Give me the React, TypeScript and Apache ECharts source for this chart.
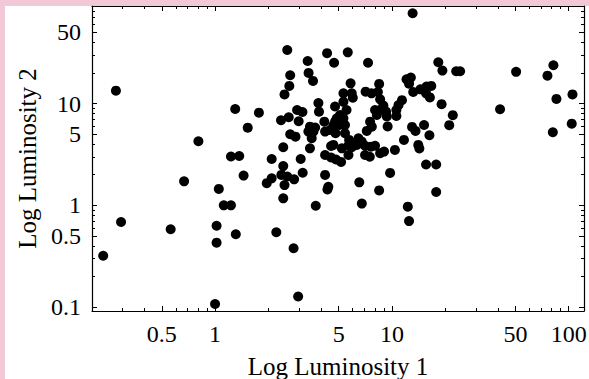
import React, { useEffect, useRef } from "react";
import * as echarts from "echarts";

// Log Luminosity 1 (x) and Log Luminosity 2 (y) values
const LUM1 = [
  0.233, 0.275, 0.294, 0.561, 0.668, 0.805, 1.0, 1.02, 1.02, 1.05,
  1.12, 1.23, 1.23, 1.37, 1.30, 1.31, 1.45, 1.53, 1.77, 1.96,
  2.09, 2.09, 2.22, 2.37, 2.47, 2.43, 2.43, 2.43, 2.56, 2.80,
  2.78, 2.95, 2.56, 2.66, 2.63, 2.47, 2.36, 2.61, 2.91, 3.12,
  2.97, 2.66, 2.85, 3.05, 3.13, 3.34, 4.30, 4.71, 3.38, 3.58,
  3.84, 3.87, 4.77, 3.44, 3.68, 3.37, 3.60, 3.52, 4.15, 4.19,
  3.44, 4.53, 4.19, 4.53, 4.83, 5.16, 5.68, 4.19, 4.37, 4.32,
  3.71, 5.63, 7.33, 5.84, 8.47, 12.1, 12.8, 12.5, 15.7, 16.7,
  18.3, 19.3, 23.1, 24.3, 13.1, 5.32, 5.93, 6.01, 5.32, 7.10,
  7.67, 8.33, 8.58, 8.95, 8.58, 9.27, 9.36, 11.4, 10.9, 10.6,
  13.2, 14.5, 15.6, 16.4, 19.1, 22.1, 21.1, 5.09, 5.32, 5.54,
  8.03, 8.22, 7.53, 7.70, 7.21, 9.46, 10.6, 13.0, 13.6, 15.2,
  16.3, 11.7, 14.1, 14.3, 10.4, 8.58, 9.03, 7.05, 7.50, 4.47,
  4.80, 5.43, 5.73, 5.68, 5.21, 4.67, 6.47, 6.76, 6.33, 7.05,
  7.60, 8.03, 4.77, 4.67, 5.05, 5.43, 4.88, 15.6, 17.8, 9.77,
  6.54, 8.47, 17.8, 6.76, 12.3, 12.5, 40.9, 50.4, 81.9, 75.8,
  105, 85.2, 104, 81.3, 5.93,
];
const LUM2 = [
  0.319, 13.4, 0.685, 0.581, 1.72, 4.26, 0.107, 0.63, 0.429, 1.45,
  1.0, 1.0, 3.02, 3.05, 8.85, 0.519, 1.96, 5.8, 8.14, 1.65,
  1.84, 2.85, 0.543, 1.99, 1.58, 2.43, 3.72, 1.17, 1.92, 1.80,
  0.378, 0.127, 33.6, 19.0, 14.9, 12.3, 6.85, 7.33, 8.65, 8.27,
  6.70, 4.99, 4.73, 2.85, 2.09, 26.2, 31.3, 25.2, 20.0, 16.7,
  10.1, 8.32, 9.36, 5.93, 5.82, 5.30, 5.30, 4.56, 6.64, 5.30,
  3.63, 3.83, 3.12, 2.95, 2.82, 2.67, 3.12, 1.99, 1.52, 1.43,
  0.99, 31.9, 25.2, 15.8, 15.6, 17.3, 18.0, 15.7, 14.7, 14.9,
  25.5, 21.1, 20.8, 20.8, 77.3, 12.6, 12.6, 11.4, 10.4, 13.1,
  12.6, 13.0, 11.0, 9.58, 8.64, 8.32, 7.46, 10.8, 9.69, 8.64,
  13.0, 13.8, 12.6, 11.5, 9.86, 7.69, 6.13, 7.72, 7.17, 8.64,
  8.64, 7.72, 6.64, 5.93, 5.38, 5.96, 7.55, 5.89, 5.38, 6.16,
  4.88, 4.39, 3.92, 3.62, 3.50, 3.25, 3.37, 3.12, 3.0, 5.50,
  5.11, 5.11, 4.39, 3.87, 3.63, 3.92, 4.56, 4.22, 3.92, 3.85,
  3.77, 3.85, 6.64, 6.09, 6.16, 6.16, 7.17, 2.52, 2.52, 2.08,
  1.68, 1.40, 1.35, 1.04, 0.97, 0.70, 8.79, 20.5, 23.8, 18.8,
  12.3, 11.1, 6.34, 5.22, 3.72,
];

const X_TICKS = [0.5, 1, 5, 10, 50, 100];
const X_MINOR = [0.3, 0.4, 0.6, 0.7, 0.8, 0.9, 2, 3, 4, 6, 7, 8, 9, 20, 30, 40, 60, 70, 80, 90];
const Y_TICKS = [0.1, 0.5, 1, 5, 10, 50];
const Y_MINOR = [0.2, 0.3, 0.4, 0.6, 0.7, 0.8, 0.9, 2, 3, 4, 6, 7, 8, 9, 20, 30, 40, 60, 70, 80, 90];
const X_RANGE = [0.2014, 122];
const Y_RANGE = [0.0914, 91];
const X_TITLE = "Log Luminosity 1";
const Y_TITLE = "Log Luminosity 2";

const FONT = "Liberation Serif";
const lg = (v: number) => Math.log10(v);

function makeAxis(
  position: string,
  ticks: number[],
  range: number[],
  major: boolean,
  showLine: boolean,
  showLabel: boolean,
  name?: string,
  nameGap?: number
) {
  const tv = ticks.map(lg);
  return {
    type: "value",
    position,
    min: lg(range[0]),
    max: lg(range[1]),
    splitLine: { show: false },
    axisLine: { show: showLine, onZero: false, lineStyle: { color: "#000", width: 1.2 } },
    axisTick: {
      show: true,
      inside: true,
      length: major ? 5 : 3,
      customValues: tv,
      lineStyle: { color: "#000", width: 1 },
    },
    axisLabel: {
      show: showLabel,
      customValues: tv,
      margin: 11,
      color: "#000",
      fontFamily: FONT,
      fontSize: 24,
      formatter: (v: number) => {
        const t = ticks.find((k) => Math.abs(lg(k) - v) < 1e-6);
        return t === undefined ? "" : String(t);
      },
    },
    name: name,
    nameLocation: "middle",
    nameGap: nameGap,
    nameTextStyle: { color: "#000", fontFamily: FONT, fontSize: 25 },
  };
}

export default function App() {
  const ref = useRef<HTMLDivElement>(null);
  useEffect(() => {
    if (!ref.current) return;
    const chart = echarts.init(ref.current, undefined, { renderer: "svg" });
    const data = LUM1.map((x, i) => [lg(x), lg(LUM2[i])]);
    chart.setOption({
      animation: false,
      grid: { left: 92, right: 5, top: 6, bottom: 68, containLabel: false, outerBoundsMode: "none" },
      xAxis: [
        makeAxis("bottom", X_TICKS, X_RANGE, true, true, true, X_TITLE, 43),
        makeAxis("bottom", X_MINOR, X_RANGE, false, false, false),
        makeAxis("top", X_TICKS, X_RANGE, true, true, false),
        makeAxis("top", X_MINOR, X_RANGE, false, false, false),
      ],
      yAxis: [
        makeAxis("left", Y_TICKS, Y_RANGE, true, true, true, Y_TITLE, 49),
        makeAxis("left", Y_MINOR, Y_RANGE, false, false, false),
        makeAxis("right", Y_TICKS, Y_RANGE, true, true, false),
        makeAxis("right", Y_MINOR, Y_RANGE, false, false, false),
      ],
      series: [
        {
          type: "scatter",
          xAxisIndex: 0,
          yAxisIndex: 0,
          data,
          symbol: "circle",
          symbolSize: 10,
          itemStyle: { color: "#000", opacity: 1 },
          silent: true,
        },
      ],
    });
    return () => chart.dispose();
  }, []);
  return (
    <div style={{ position: "fixed", left: 0, top: 0, width: 589, height: 379, background: "#f2c8d8" }}>
      <div style={{ position: "absolute", left: 5, top: 6, width: 584, height: 373, background: "#fff" }} />
      <div ref={ref} style={{ position: "absolute", left: 0, top: 0, width: 589, height: 379 }} />
    </div>
  );
}
